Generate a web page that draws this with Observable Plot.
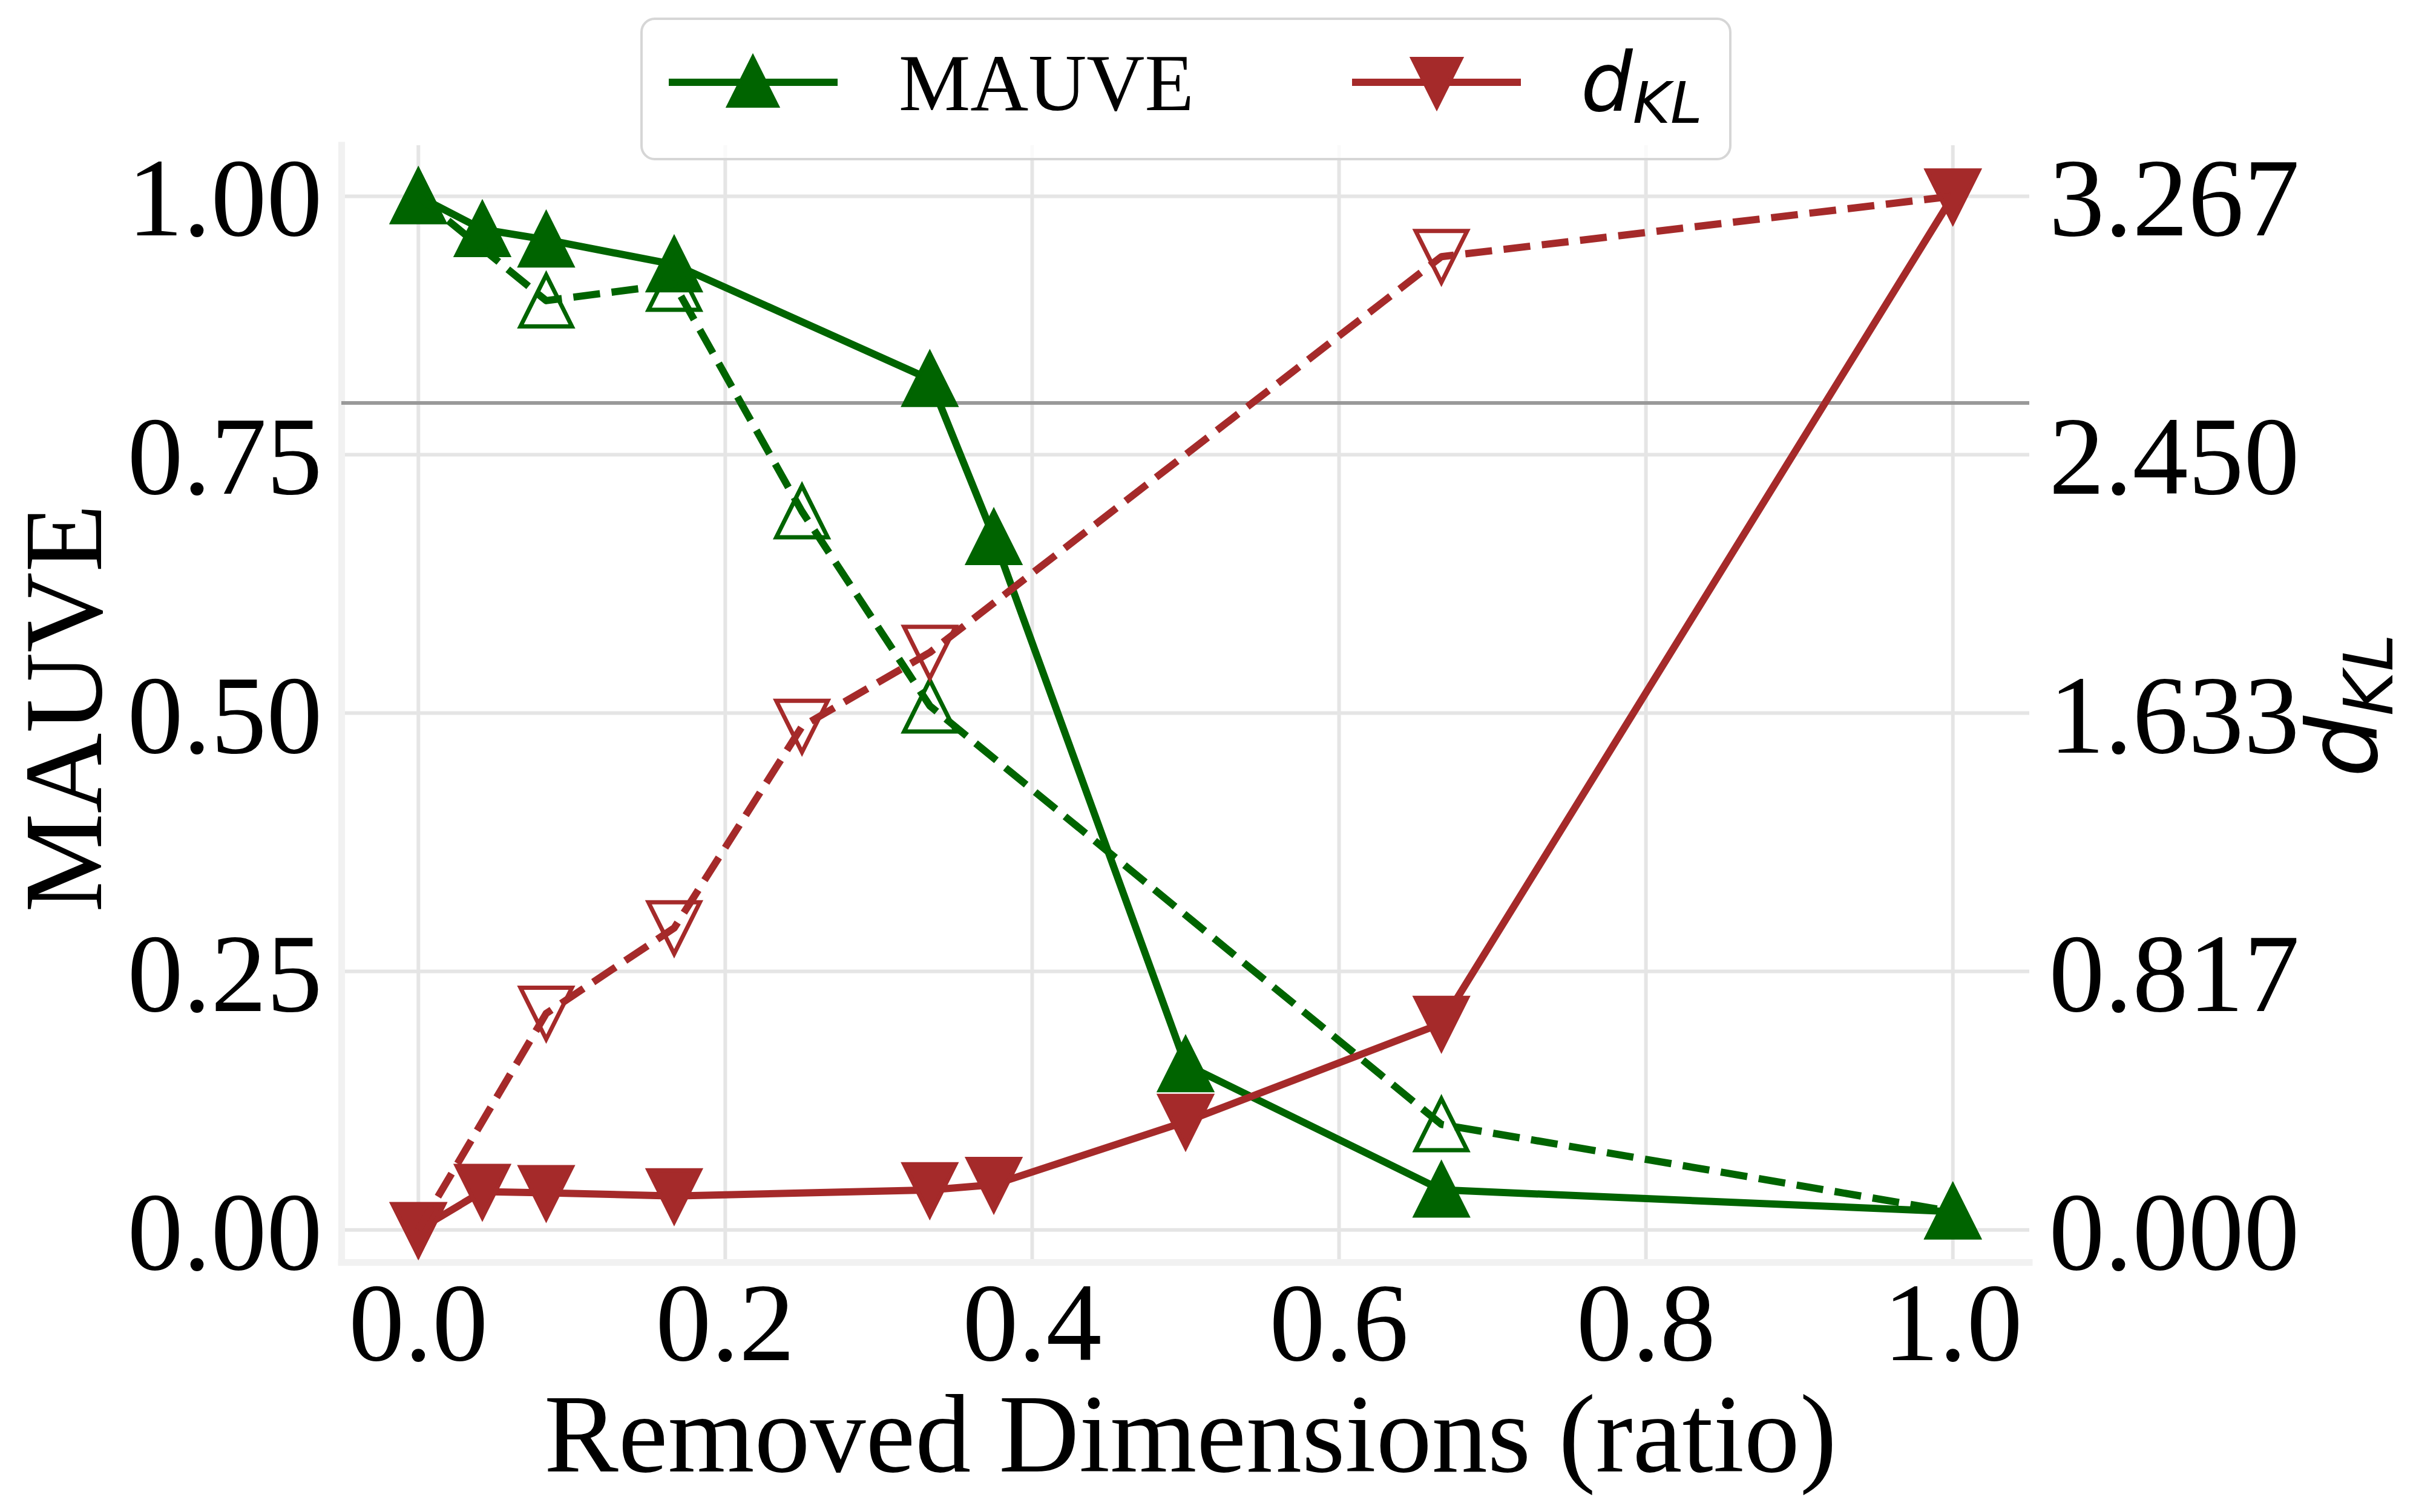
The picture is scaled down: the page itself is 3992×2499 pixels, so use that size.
<!DOCTYPE html>
<html><head><meta charset="utf-8">
<script src="https://cdn.jsdelivr.net/npm/d3@7"></script>
<script src="https://cdn.jsdelivr.net/npm/@observablehq/plot@0.6"></script>
<style>
html,body{margin:0;padding:0;background:#fff;}
#fig{position:relative;width:3992px;height:2499px;overflow:hidden;background:#fff;}
#legend{position:absolute;left:1058px;top:29px;width:1803px;height:236px;box-sizing:border-box;border:4px solid #d6d6d6;border-radius:24px;background:rgba(255,255,255,0.8);}
#legend svg{position:absolute;left:-4px;top:-4px;overflow:visible;}
</style></head><body><div id="fig"></div>
<script>
// ---- data ----
const ratioSolid  = [0, 0.0417, 0.0833, 0.1667, 0.3333, 0.375, 0.5, 0.6667, 1.0];
const mauveSolid  = [1.0, 0.968, 0.958, 0.934, 0.823, 0.670, 0.160, 0.0387, 0.0176];
const dklSolid    = [0.0, 0.121, 0.117, 0.107, 0.126, 0.143, 0.342, 0.652, 3.267];
const ratioDashed = [0, 0.0833, 0.1667, 0.25, 0.3333, 0.6667, 1.0];
const mauveDashed = [1.0, 0.899, 0.915, 0.695, 0.507, 0.102, 0.0176];
const dklDashed   = [0.0, 0.684, 0.954, 1.591, 1.825, 3.076, 3.267];
const dklMax = 3.267;
const threshold = 0.8;
const xTicks = [0, 0.2, 0.4, 0.6, 0.8, 1.0];
const xTickLabels = ["0.0", "0.2", "0.4", "0.6", "0.8", "1.0"];
const yTicks = [0, 0.25, 0.5, 0.75, 1.0];
const yTickLabels = ["0.00", "0.25", "0.50", "0.75", "1.00"];
const y2TickLabels = ["0.000", "0.817", "1.633", "2.450", "3.267"];
const xDomain = [-0.05, 1.05];
const yDomain = [-0.0315, 1.0491];

const GREEN = "#006400", RED = "#a52a2a";
const SERIF = "Liberation Serif, Times New Roman, serif";

const solidRows = ratioSolid.map((x, i) => ({x, mauve: mauveSolid[i], dkl: dklSolid[i]}));
const dashedRows = ratioDashed.map((x, i) => ({x, mauve: mauveDashed[i], dkl: dklDashed[i]}));

const triUp = {draw(ctx, size) { const r = Math.sqrt(size / Math.PI); ctx.moveTo(0, -r); ctx.lineTo(r, r); ctx.lineTo(-r, r); ctx.closePath(); }};
const triDown = {draw(ctx, size) { const r = Math.sqrt(size / Math.PI); ctx.moveTo(0, r); ctx.lineTo(r, -r); ctx.lineTo(-r, -r); ctx.closePath(); }};

const R = 42.5, MEW = 7, LW = 12, DASH = "44.4,19.2";
const dkl = d => d.dkl / dklMax;

const chart = Plot.plot({
  width: 3992, height: 2499,
  marginLeft: 564, marginRight: 639, marginTop: 240, marginBottom: 413,
  x: {domain: xDomain, axis: null},
  y: {domain: yDomain, axis: null},
  style: {background: "white"},
  marks: [
    Plot.ruleX(xTicks, {stroke: "#e5e5e5", strokeWidth: 6}),
    Plot.ruleY(yTicks, {stroke: "#e5e5e5", strokeWidth: 6}),
    Plot.ruleX([xDomain[0]], {stroke: "#f1f1f1", strokeWidth: 11, strokeLinecap: "square"}),
    Plot.ruleY([yDomain[0]], {stroke: "#f1f1f1", strokeWidth: 11, strokeLinecap: "square"}),
    Plot.ruleY([threshold], {stroke: "#999999", strokeWidth: 6}),
    // MAUVE solid
    Plot.line(solidRows, {x: "x", y: "mauve", stroke: GREEN, strokeWidth: LW, strokeLinejoin: "round", strokeLinecap: "square"}),
    Plot.dot(solidRows, {x: "x", y: "mauve", symbol: triUp, r: R, fill: GREEN, stroke: GREEN, strokeWidth: MEW, strokeLinejoin: "miter"}),
    // MAUVE dashed
    Plot.line(dashedRows, {x: "x", y: "mauve", stroke: GREEN, strokeWidth: LW, strokeDasharray: DASH, strokeLinecap: "butt", strokeLinejoin: "round"}),
    Plot.dot(dashedRows, {x: "x", y: "mauve", symbol: triUp, r: R, fill: "none", stroke: GREEN, strokeWidth: MEW, strokeLinejoin: "miter"}),
    // dKL solid
    Plot.line(solidRows, {x: "x", y: dkl, stroke: RED, strokeWidth: LW, strokeLinejoin: "round", strokeLinecap: "square"}),
    Plot.dot(solidRows, {x: "x", y: dkl, symbol: triDown, r: R, fill: RED, stroke: RED, strokeWidth: MEW, strokeLinejoin: "miter"}),
    // dKL dashed
    Plot.line(dashedRows, {x: "x", y: dkl, stroke: RED, strokeWidth: LW, strokeDasharray: DASH, strokeLinecap: "butt", strokeLinejoin: "round"}),
    Plot.dot(dashedRows, {x: "x", y: dkl, symbol: triDown, r: R, fill: "none", stroke: RED, strokeWidth: MEW, strokeLinejoin: "miter"}),
    // tick labels
    Plot.text(xTicks, {x: d => d, text: (d, i) => xTickLabels[i], frameAnchor: "bottom", lineAnchor: "bottom", dy: 161, fontSize: 184, fontFamily: SERIF, fill: "black"}),
    Plot.text(yTicks, {y: d => d, text: (d, i) => yTickLabels[i], frameAnchor: "left", textAnchor: "end", lineAnchor: "bottom", dx: -32, dy: 65, fontSize: 184, fontFamily: SERIF, fill: "black"}),
    Plot.text(yTicks, {y: d => d, text: (d, i) => y2TickLabels[i], frameAnchor: "right", textAnchor: "start", lineAnchor: "bottom", dx: 32, dy: 65, fontSize: 184, fontFamily: SERIF, fill: "black"}),
    // axis labels
    Plot.text(["Removed Dimensions (ratio)"], {text: d => d, frameAnchor: "bottom", lineAnchor: "bottom", dx: 8, dy: 345, fontSize: 184, fontFamily: SERIF, fill: "black"}),
    Plot.text(["MAUVE"], {text: d => d, frameAnchor: "left", rotate: -90, textAnchor: "middle", lineAnchor: "bottom", dx: -398, dy: 7, fontSize: 184, fontFamily: SERIF, fill: "black"})
  ]
});

const fig = document.getElementById("fig");
fig.appendChild(chart);

// right axis label d_KL (rotated, reads bottom to top)
const svg = d3.select(chart);
const rl = svg.append("text")
  .attr("transform", "translate(3927,1166) rotate(-90)")
  .attr("text-anchor", "middle")
  .attr("font-family", "DejaVu Sans").attr("font-style", "italic")
  .attr("font-size", 160).attr("fill", "black");
rl.append("tspan").text("d");
rl.append("tspan").attr("font-size", 112).attr("dy", 26).text("KL");

// legend
const leg = document.createElement("div");
leg.id = "legend";
fig.appendChild(leg);
const ls = d3.select(leg).append("svg").attr("width", 1803).attr("height", 236);
const h = 39.5;
ls.append("line").attr("x1", 47).attr("x2", 326).attr("y1", 107).attr("y2", 107).attr("stroke", GREEN).attr("stroke-width", LW);
ls.append("path").attr("d", `M${186},${106 - h}L${186 + h},${106 + h}L${186 - h},${106 + h}Z`).attr("fill", GREEN).attr("stroke", GREEN).attr("stroke-width", MEW).attr("stroke-linejoin", "miter");
ls.append("text").attr("x", 427).attr("y", 153).attr("font-family", SERIF).attr("font-size", 133).attr("fill", "black").text("MAUVE");
ls.append("line").attr("x1", 1176).attr("x2", 1455).attr("y1", 107).attr("y2", 107).attr("stroke", RED).attr("stroke-width", LW);
ls.append("path").attr("d", `M${1316},${108 + h}L${1316 + h},${108 - h}L${1316 - h},${108 - h}Z`).attr("fill", RED).attr("stroke", RED).attr("stroke-width", MEW).attr("stroke-linejoin", "miter");
const lt = ls.append("text").attr("x", 1554).attr("y", 154).attr("font-family", "DejaVu Sans").attr("font-style", "italic").attr("font-size", 135).attr("fill", "black");
lt.append("tspan").text("d");
lt.append("tspan").attr("font-size", 95).attr("dy", 20).text("KL");
</script></body></html>
